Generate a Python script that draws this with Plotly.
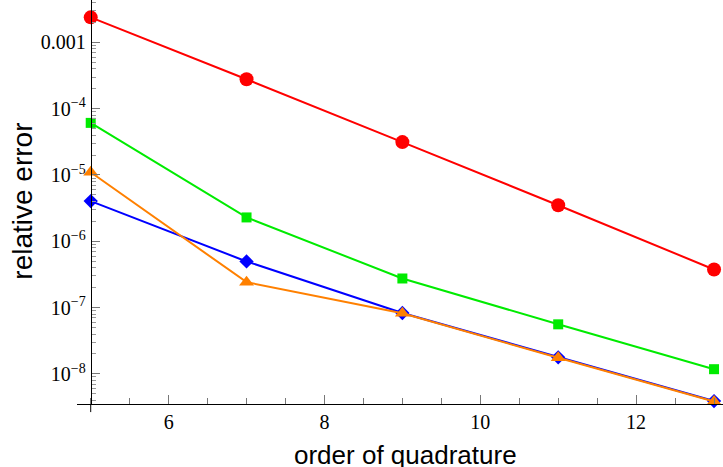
import plotly.graph_objects as go

orders = [5, 7, 9, 11, 13]
err_red = [2.38e-3, 2.77e-4, 3.13e-5, 3.5e-6, 3.76e-7]
err_green = [6.1e-5, 2.29e-6, 2.75e-7, 5.6e-8, 1.18e-8]
err_blue = [4.04e-6, 4.97e-7, 8.3e-8, 1.78e-8, 3.9e-9]
err_orange = [1.1e-5, 2.42e-7, 8.2e-8, 1.75e-8, 3.85e-9]

ytick_vals = [1e-8, 1e-7, 1e-6, 1e-5, 1e-4, 1e-3]
ytick_text = ["10<sup>\u22128</sup>", "10<sup>\u22127</sup>", "10<sup>\u22126</sup>",
              "10<sup>\u22125</sup>", "10<sup>\u22124</sup>", "0.001"]
xtick_vals = [6, 8, 10, 12]

W, H = 723, 467
ML, MR, MT, MB = 77, 0, 0, 63
xr = [4.824, 13.115]
yr = [-8.453, -2.362]

fig = go.Figure()
series = [
    (err_red, "rgb(255,0,0)", "circle", 14),
    (err_green, "rgb(0,235,0)", "square", 10),
    (err_blue, "rgb(0,0,255)", "diamond", 11),
    (err_orange, "rgb(255,128,0)", "triangle-up", 13),
]
for ys, col, sym, sz in series:
    fig.add_trace(go.Scatter(x=orders, y=ys, mode="lines+markers",
                             line=dict(color=col, width=2),
                             marker=dict(color=col, symbol=sym, size=sz, line=dict(width=0)),
                             showlegend=False, cliponaxis=False))

minor_y = [k * 10.0 ** e for e in range(-9, -1) for k in range(2, 10)]
ypos = (5 - xr[0]) / (xr[1] - xr[0])
tickfont = dict(family="Liberation Serif, Times New Roman, DejaVu Serif, serif", size=20, color="black")

fig.update_layout(
    width=W, height=H,
    margin=dict(l=ML, r=MR, t=MT, b=MB),
    paper_bgcolor="white", plot_bgcolor="white",
    xaxis=dict(range=xr, showgrid=False, zeroline=False, showline=True, linecolor="black",
               linewidth=1, ticks="inside", ticklen=9, tickcolor="#777", tickmode="array",
               tickvals=xtick_vals, tickfont=tickfont, ticklabelstandoff=0,
               minor=dict(ticks="inside", ticklen=6, tickcolor="#777", dtick=0.5, tick0=5,
                          showgrid=False)),
    yaxis=dict(type="log", range=yr, showgrid=False, zeroline=False, showline=True,
               linecolor="black", linewidth=1, anchor="free", position=ypos,
               ticks="inside", ticklen=8, tickcolor="#777", tickmode="array",
               tickvals=ytick_vals, ticktext=ytick_text, tickfont=tickfont,
               ticklabelstandoff=1,
               minor=dict(ticks="inside", ticklen=4, tickcolor="#999", tickmode="array",
                          tickvals=minor_y, showgrid=False)),
    shapes=[dict(type="line", xref="x", yref="paper", x0=5, x1=5, y0=0, y1=-0.02,
                 line=dict(color="black", width=1))],
    annotations=[
        dict(text="relative error", xref="paper", yref="paper", x=-0.0844, y=0.502,
             textangle=-90, showarrow=False, xanchor="center", yanchor="middle",
             font=dict(family="Liberation Sans", size=28, color="black")),
        dict(text="order of quadrature", xref="paper", yref="paper", x=0.5085, y=-0.085,
             showarrow=False, xanchor="center", yanchor="top",
             font=dict(family="Liberation Sans", size=26, color="black")),
    ],
)

fig.write_html("out.html")
